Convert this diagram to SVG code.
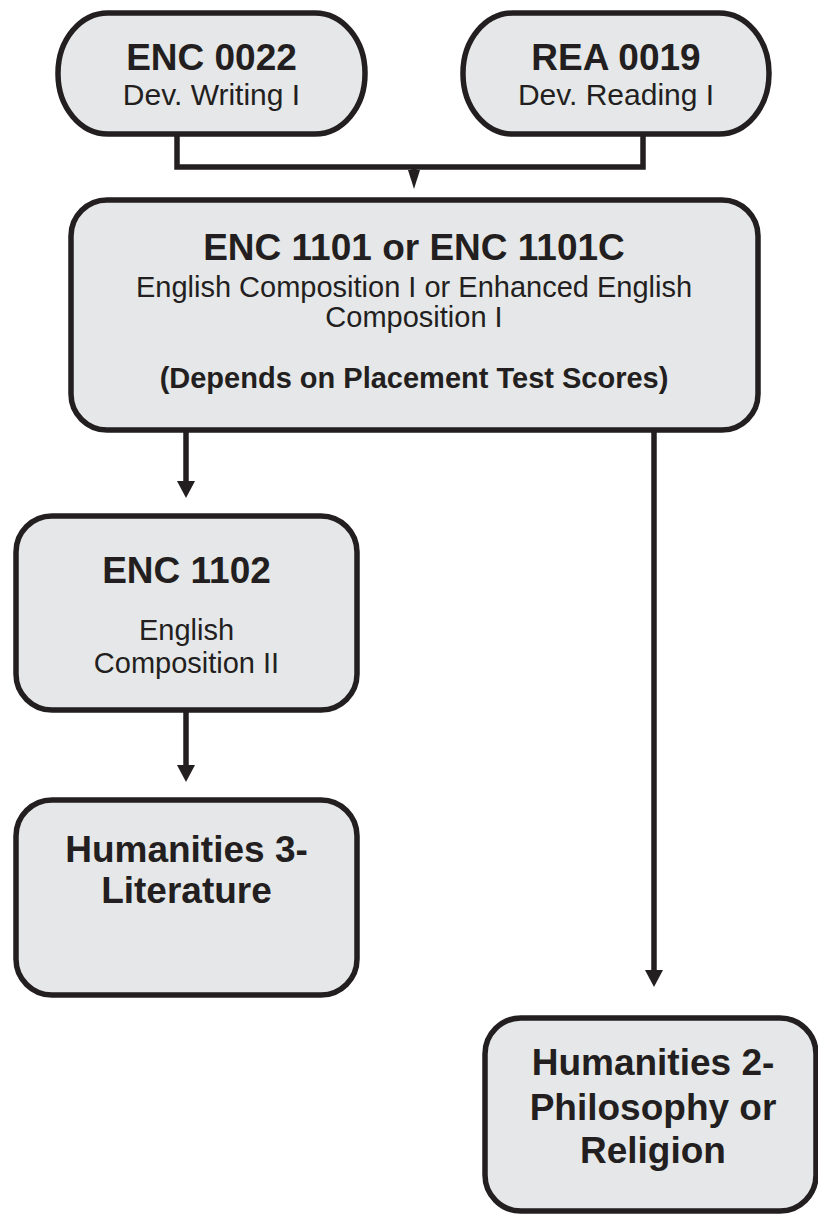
<svg xmlns="http://www.w3.org/2000/svg" width="818" height="1214" viewBox="0 0 818 1214">
<style>
.box{fill:#e6e7e8;stroke:#231f20;stroke-width:5.5}
.t{font-family:"Liberation Sans",Arial,sans-serif;fill:#231f20;text-anchor:middle}
.b{font-weight:bold;font-size:37px}
.s{font-size:29px}
.sb{font-weight:bold;font-size:29px}
.ln{fill:none;stroke:#231f20;stroke-width:5.5}
.ah{fill:#231f20}
</style>
<rect width="818" height="1214" fill="#ffffff"/>
<g id="connectors">
<polyline class="ln" points="177,134 177,167 643,167 643,134"/>
<line class="ln" x1="414" y1="167" x2="414" y2="174"/>
<polygon class="ah" points="408,170 420,170 414,189"/>
<line class="ln" x1="186" y1="430" x2="186" y2="483"/>
<polygon class="ah" points="177,481 195,481 186,498"/>
<line class="ln" x1="186" y1="710" x2="186" y2="767"/>
<polygon class="ah" points="177,765 195,765 186,782"/>
<line class="ln" x1="654" y1="430" x2="654" y2="972"/>
<polygon class="ah" points="645,970 663,970 654,987"/>
</g>
<g id="enc0022">
<rect class="box" x="58" y="13" width="307" height="121" rx="50" ry="60"/>
<text class="t b" x="211.5" y="70">ENC 0022</text>
<text class="t" x="211.5" y="105" font-size="30">Dev. Writing I</text>
</g>
<g id="rea0019">
<rect class="box" x="463" y="13" width="306" height="121" rx="50" ry="60"/>
<text class="t b" x="616" y="70">REA 0019</text>
<text class="t" x="616" y="105" font-size="30">Dev. Reading I</text>
</g>
<g id="enc1101">
<rect class="box" x="71" y="200" width="687" height="230" rx="36" ry="36"/>
<text class="t b" x="414" y="260">ENC 1101 or ENC 1101C</text>
<text class="t s" x="414" y="297">English Composition I or Enhanced English</text>
<text class="t s" x="414" y="327">Composition I</text>
<text class="t sb" x="414" y="388">(Depends on Placement Test Scores)</text>
</g>
<g id="enc1102">
<rect class="box" x="16" y="516" width="341" height="194" rx="36" ry="36"/>
<text class="t b" x="186.5" y="583">ENC 1102</text>
<text class="t s" x="186.5" y="640">English</text>
<text class="t s" x="186.5" y="673">Composition II</text>
</g>
<g id="hum3">
<rect class="box" x="16" y="800" width="341" height="195" rx="36" ry="36"/>
<text class="t b" x="186.5" y="862">Humanities 3-</text>
<text class="t b" x="186.5" y="903">Literature</text>
</g>
<g id="hum2">
<rect class="box" x="485" y="1018" width="331" height="193" rx="36" ry="36"/>
<text class="t b" x="653" y="1075">Humanities 2-</text>
<text class="t b" x="653" y="1120">Philosophy or</text>
<text class="t b" x="653" y="1163">Religion</text>
</g>
</svg>
